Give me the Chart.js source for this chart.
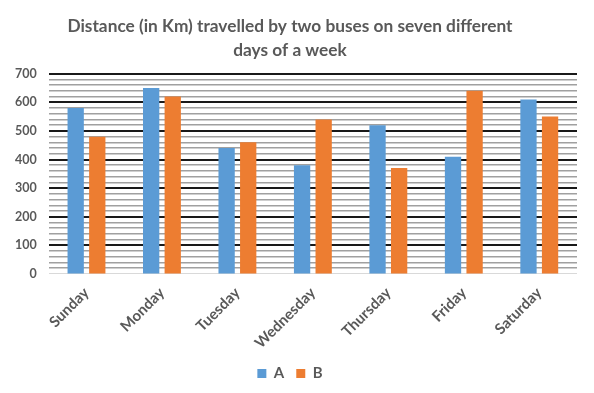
<!DOCTYPE html>
<html>
<head>
<meta charset="utf-8">
<script src="https://cdn.jsdelivr.net/npm/chart.js@4.4.0/dist/chart.umd.min.js"></script>
<style>
  html, body { margin: 0; padding: 0; background: #fff; }
  #wrap { width: 594px; height: 393px; }
</style>
</head>
<body>
<div id="wrap"><canvas id="myChart" width="594" height="393"></canvas></div>
<script>
// data
const days = ['Sunday', 'Monday', 'Tuesday', 'Wednesday', 'Thursday', 'Friday', 'Saturday'];
const busA = [580, 650, 440, 380, 520, 410, 610];
const busB = [480, 620, 460, 540, 370, 640, 550];
const titleLines = ['Distance (in Km) travelled by two buses on seven different', 'days of a week'];

const grey = '#595959';
const fontName = 'Lato';

var ctx = document.getElementById('myChart').getContext('2d');
const chart = new Chart(ctx, {
    type: 'bar',
    data: {
        labels: days,
        datasets: [
            {
                label: 'A',
                data: busA,
                backgroundColor: '#5B9BD5',
                barPercentage: 0.755,
                categoryPercentage: 0.572
            },
            {
                label: 'B',
                data: busB,
                backgroundColor: '#ED7D31',
                barPercentage: 0.755,
                categoryPercentage: 0.572
            }
        ]
    },
    options: {
        responsive: false,
        animation: false,
        layout: {
            padding: { left: 3, right: 17, top: 8, bottom: 2 }
        },
        plugins: {
            title: {
                display: true,
                text: titleLines,
                color: grey,
                font: { family: fontName, size: 17.3, weight: 'bold', lineHeight: 1.35 },
                padding: { top: 7, bottom: 12 }
            },
            legend: {
                position: 'bottom',
                labels: {
                    boxWidth: 9,
                    boxHeight: 9,
                    padding: 12,
                    color: grey,
                    font: { family: fontName, size: 15, weight: 'bold' }
                }
            },
            tooltip: { enabled: false }
        },
        scales: {
            x: {
                grid: { display: false },
                border: { display: false },
                ticks: {
                    color: grey,
                    minRotation: 45,
                    maxRotation: 45,
                    padding: 2,
                    font: { family: fontName, size: 15, weight: 'bold' }
                }
            },
            y: {
                min: 0,
                max: 700,
                border: { display: false },
                grid: {
                    drawTicks: false,
                    color: c => c.tick.value === 0 ? '#d9d9d9' : (c.tick.value % 100 === 0 ? '#1a1a1a' : '#a0a0a0'),
                    lineWidth: c => c.tick.value === 0 ? 1 : (c.tick.value % 100 === 0 ? 2 : 1.5)
                },
                ticks: {
                    stepSize: 20,
                    autoSkip: false,
                    padding: 12,
                    color: grey,
                    font: { family: fontName, size: 12.5, weight: 'bold' },
                    callback: v => v % 100 === 0 ? v : ''
                }
            }
        }
    }
});
</script>
</body>
</html>
